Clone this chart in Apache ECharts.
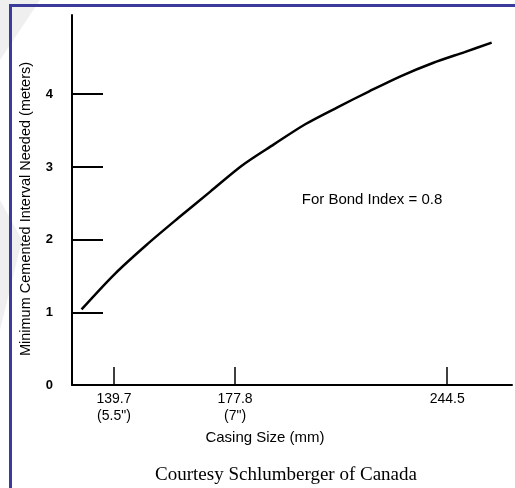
<!DOCTYPE html>
<html>
<head>
<meta charset="utf-8">
<script src="https://cdn.jsdelivr.net/npm/echarts@6/dist/echarts.min.js"></script>
<style>
html,body{margin:0;padding:0;background:#fff;}
#c{width:515px;height:488px;}
</style>
</head>
<body>
<div id="c"></div>
<script>
// Casing size (mm) and minimum cemented interval (m)
var casingSize = [129.5, 140, 150, 160, 170, 180, 190, 200, 210, 220, 230, 240, 250, 258.5];
var intervalNeeded = [1.04, 1.53, 1.93, 2.30, 2.66, 3.02, 3.31, 3.59, 3.82, 4.04, 4.25, 4.43, 4.58, 4.71];
var xTickValues = [139.7, 177.8, 244.5];
var xTickLabels = ['139.7\n(5.5")', '177.8\n(7")', '244.5'];
var yTickValues = [0, 1, 2, 3, 4];

var chart = echarts.init(document.getElementById('c'));
var labelMap = {};
xTickValues.forEach(function (v, i) { labelMap[v] = xTickLabels[i]; });
var sans = 'Liberation Sans, Arial, sans-serif';

chart.setOption({
  backgroundColor: '#ffffff',
  animation: false,
  grid: { left: 72, right: 3, top: 15, bottom: 103, containLabel: false },
  xAxis: {
    type: 'value',
    min: 126.5,
    max: 264.9,
    axisLine: { show: true, lineStyle: { color: '#000', width: 2 } },
    splitLine: { show: false },
    axisTick: { show: true, inside: true, length: 18, customValues: xTickValues, lineStyle: { color: '#000', width: 1.5 } },
    axisLabel: {
      customValues: xTickValues,
      formatter: function (v) { return labelMap[v] || ''; },
      color: '#000', fontFamily: sans, fontSize: 14, lineHeight: 17, margin: 6
    }
  },
  yAxis: {
    type: 'value',
    min: 0,
    max: 5.09,
    axisLine: { show: true, lineStyle: { color: '#000', width: 2 } },
    splitLine: { show: false },
    axisTick: { show: true, inside: true, length: 31, customValues: yTickValues, lineStyle: { color: '#000', width: 2 } },
    axisLabel: {
      customValues: yTickValues,
      color: '#000', fontFamily: sans, fontSize: 13, fontWeight: 'bold', margin: 19
    }
  },
  series: [{
    type: 'line',
    data: casingSize.map(function (x, i) { return [x, intervalNeeded[i]]; }),
    smooth: 0.3,
    symbol: 'none',
    lineStyle: { color: '#000', width: 2.5 }
  }],
  graphic: [
    { type: 'polygon', silent: true, z: -10, shape: { points: [[0,0],[40,0],[0,60]] }, style: { fill: '#efefef' } },
    { type: 'polygon', silent: true, z: -10, shape: { points: [[0,200],[22,240],[0,330]] }, style: { fill: '#efefef' } },
    { type: 'rect', silent: true, shape: { x: 9, y: 4, width: 506, height: 3 }, style: { fill: '#3b3b9b' } },
    { type: 'rect', silent: true, shape: { x: 9, y: 4, width: 3, height: 484 }, style: { fill: '#3b3b9b' } },
    { type: 'text', silent: true, x: 26, y: 209, rotation: Math.PI / 2,
      style: { text: 'Minimum Cemented Interval Needed (meters)', fill: '#000', font: '14.5px ' + sans, align: 'center', verticalAlign: 'middle' } },
    { type: 'text', silent: true, x: 265, y: 438,
      style: { text: 'Casing Size (mm)', fill: '#000', font: '15px ' + sans, align: 'center', verticalAlign: 'middle' } },
    { type: 'text', silent: true, x: 372, y: 200,
      style: { text: 'For Bond Index = 0.8', fill: '#000', font: '15px ' + sans, align: 'center', verticalAlign: 'middle' } },
    { type: 'text', silent: true, x: 286, y: 475,
      style: { text: 'Courtesy Schlumberger of Canada', fill: '#000', font: '19px Liberation Serif, Times New Roman, serif', align: 'center', verticalAlign: 'middle' } }
  ]
});
</script>
</body>
</html>
